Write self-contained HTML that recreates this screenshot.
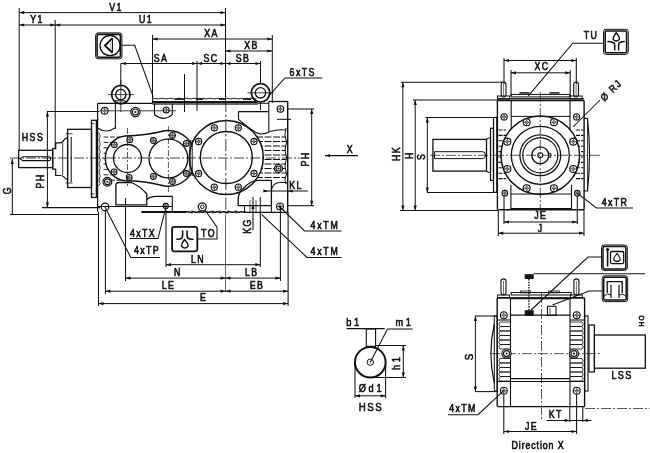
<!DOCTYPE html>
<html><head><meta charset="utf-8"><style>
html,body{margin:0;padding:0;background:#fff;}
svg{display:block;filter:blur(0.3px);}
text{font-family:"Liberation Sans",sans-serif;fill:#111;stroke:#111;stroke-width:0.6px;}
</style></head><body>
<svg width="650" height="453" viewBox="0 0 650 453">
<rect width="650" height="453" fill="#fff"/>
<line x1="19.2" y1="8" x2="19.2" y2="150.5" stroke="#111" stroke-width="1.0"/>
<line x1="55.2" y1="20" x2="55.2" y2="148.7" stroke="#111" stroke-width="1.0"/>
<line x1="225.5" y1="8" x2="225.5" y2="100" stroke="#111" stroke-width="1.05"/>
<line x1="225.5" y1="215" x2="225.5" y2="292" stroke="#444" stroke-width="0.8"/>
<line x1="152.5" y1="35" x2="152.5" y2="98" stroke="#111" stroke-width="1.0"/>
<line x1="197" y1="61" x2="197" y2="111" stroke="#111" stroke-width="1.0"/>
<line x1="184.5" y1="74" x2="184.5" y2="112" stroke="#111" stroke-width="1.0"/>
<line x1="260.5" y1="61" x2="260.5" y2="110" stroke="#111" stroke-width="1.0"/>
<line x1="272.3" y1="35" x2="272.3" y2="103" stroke="#111" stroke-width="1.0"/>
<line x1="120.8" y1="63.5" x2="120.8" y2="84" stroke="#111" stroke-width="1.0"/>
<line x1="19.2" y1="12.6" x2="225.5" y2="12.6" stroke="#111" stroke-width="1.0"/>
<polygon points="19.2,12.6 24.2,11.0 24.2,14.2" fill="#111"/>
<polygon points="225.5,12.6 220.5,11.0 220.5,14.2" fill="#111"/>
<text x="0" y="0" font-size="10" text-anchor="middle" dominant-baseline="central" font-weight="normal" letter-spacing="1.62" transform="translate(116 7) scale(0.88 1)">V1</text>
<line x1="19.2" y1="25" x2="55.2" y2="25" stroke="#111" stroke-width="1.0"/>
<polygon points="19.2,25.0 24.2,23.4 24.2,26.6" fill="#111"/>
<polygon points="55.2,25.0 50.2,23.4 50.2,26.6" fill="#111"/>
<line x1="55.2" y1="25" x2="225.5" y2="25" stroke="#111" stroke-width="1.0"/>
<polygon points="55.2,25.0 60.2,23.4 60.2,26.6" fill="#111"/>
<polygon points="225.5,25.0 220.5,23.4 220.5,26.6" fill="#111"/>
<text x="0" y="0" font-size="10" text-anchor="middle" dominant-baseline="central" font-weight="normal" letter-spacing="1.62" transform="translate(37 19.5) scale(0.88 1)">Y1</text>
<text x="0" y="0" font-size="10" text-anchor="middle" dominant-baseline="central" font-weight="normal" letter-spacing="1.62" transform="translate(146 19.5) scale(0.88 1)">U1</text>
<line x1="152.5" y1="39" x2="272.3" y2="39" stroke="#111" stroke-width="1.0"/>
<polygon points="152.5,39.0 157.5,37.4 157.5,40.6" fill="#111"/>
<polygon points="272.3,39.0 267.3,37.4 267.3,40.6" fill="#111"/>
<text x="0" y="0" font-size="10" text-anchor="middle" dominant-baseline="central" font-weight="normal" letter-spacing="1.62" transform="translate(211.5 33) scale(0.88 1)">XA</text>
<line x1="225.5" y1="51" x2="272.3" y2="51" stroke="#111" stroke-width="1.0"/>
<polygon points="225.5,51.0 230.5,49.4 230.5,52.6" fill="#111"/>
<polygon points="272.3,51.0 267.3,49.4 267.3,52.6" fill="#111"/>
<text x="0" y="0" font-size="10" text-anchor="middle" dominant-baseline="central" font-weight="normal" letter-spacing="1.62" transform="translate(251.5 45) scale(0.88 1)">XB</text>
<line x1="120.8" y1="63.5" x2="197" y2="63.5" stroke="#111" stroke-width="1.0"/>
<polygon points="120.8,63.5 125.8,61.9 125.8,65.1" fill="#111"/>
<polygon points="197.0,63.5 192.0,61.9 192.0,65.1" fill="#111"/>
<line x1="197" y1="63.5" x2="225.5" y2="63.5" stroke="#111" stroke-width="1.0"/>
<polygon points="197.0,63.5 202.0,61.9 202.0,65.1" fill="#111"/>
<polygon points="225.5,63.5 220.5,61.9 220.5,65.1" fill="#111"/>
<line x1="225.5" y1="63.5" x2="260.5" y2="63.5" stroke="#111" stroke-width="1.0"/>
<polygon points="225.5,63.5 230.5,61.9 230.5,65.1" fill="#111"/>
<polygon points="260.5,63.5 255.5,61.9 255.5,65.1" fill="#111"/>
<text x="0" y="0" font-size="10" text-anchor="middle" dominant-baseline="central" font-weight="normal" letter-spacing="1.62" transform="translate(161 58) scale(0.88 1)">SA</text>
<text x="0" y="0" font-size="10" text-anchor="middle" dominant-baseline="central" font-weight="normal" letter-spacing="1.62" transform="translate(211 58) scale(0.88 1)">SC</text>
<text x="0" y="0" font-size="10" text-anchor="middle" dominant-baseline="central" font-weight="normal" letter-spacing="1.62" transform="translate(243 58) scale(0.88 1)">SB</text>
<rect x="95.6" y="32.9" width="26.3" height="25.9" rx="2.5" stroke="#111" stroke-width="1.0" fill="none"/>
<rect x="97.1" y="34.4" width="23.3" height="22.9" rx="1.5" stroke="#111" stroke-width="1.6" fill="none"/>
<circle cx="110.1" cy="45.6" r="10.1" stroke="#111" stroke-width="1.3" fill="none"/>
<path d="M112.5,38.1 L105,45.6 L112.5,52.8" stroke="#111" stroke-width="2.0" fill="none"/>
<path d="M112.5,38.1 L112.5,52.8" stroke="#111" stroke-width="1.0" fill="none"/>
<path d="M111.5,41.5 Q109.5,45.6 111.5,49.5" stroke="#777" stroke-width="0.7" fill="none"/>
<path d="M121.9,45.3 L134.7,45.3 L153.2,96.6" stroke="#111" stroke-width="1.05" fill="none"/>
<text x="0" y="0" font-size="10" text-anchor="middle" dominant-baseline="central" font-weight="normal" letter-spacing="1.62" transform="translate(302.7 71.8) scale(0.88 1)">6xTS</text>
<path d="M322.4,78 L285,78 L269.2,95.4" stroke="#111" stroke-width="1.05" fill="none"/>
<circle cx="120.8" cy="94.6" r="9.2" stroke="#111" stroke-width="1.7" fill="#fff"/>
<circle cx="120.8" cy="94.6" r="5.2" stroke="#111" stroke-width="1.3" fill="none"/>
<line x1="107.8" y1="94.6" x2="133.8" y2="94.6" stroke="#111" stroke-width="0.8"/>
<circle cx="260.5" cy="92.8" r="9.2" stroke="#111" stroke-width="1.7" fill="#fff"/>
<circle cx="260.5" cy="92.8" r="5.2" stroke="#111" stroke-width="1.3" fill="none"/>
<line x1="247.5" y1="92.8" x2="273.5" y2="92.8" stroke="#111" stroke-width="0.8"/>
<line x1="115.4" y1="100.8" x2="115.4" y2="129" stroke="#111" stroke-width="1.1"/>
<line x1="125.4" y1="100.8" x2="125.4" y2="103.3" stroke="#111" stroke-width="1.0"/>
<line x1="115.4" y1="100.8" x2="125.4" y2="100.8" stroke="#111" stroke-width="1.0"/>
<line x1="120.8" y1="80" x2="120.8" y2="112" stroke="#111" stroke-width="0.8"/>
<path d="M152.5,98.8 Q154.5,98.0 156.5,98.6 Q158.5,99.2 160.5,98.6 Q162.5,98.0 164.5,98.6 Q166.5,99.2 168.5,98.6 Q170.5,98.0 172.5,98.6 Q174.5,99.2 176.5,98.6 Q178.5,98.0 180.5,98.6 Q182.5,99.2 184.5,98.6 Q186.5,98.0 188.5,98.6 Q190.5,99.2 192.5,98.6 Q194.5,98.0 196.5,98.6 Q198.5,99.2 200.5,98.6 Q202.5,98.0 204.5,98.6 Q206.5,99.2 208.5,98.6 Q210.5,98.0 212.5,98.6 Q214.5,99.2 216.5,98.6 Q218.5,98.0 220.5,98.6 Q222.5,99.2 224.5,98.6 Q226.5,98.0 228.5,98.6 Q230.5,99.2 232.5,98.6 Q234.5,98.0 236.5,98.6 Q238.5,99.2 240.5,98.6 Q242.5,98.0 244.5,98.6 Q246.5,99.2 248.5,98.6 Q250.5,98.0 252.5,98.6 Q254.5,99.2 256.5,98.6" stroke="#111" stroke-width="1.0" fill="none"/>
<path d="M175,99.5 Q179.5,96.8 184,99.5 Z" stroke="#111" stroke-width="0.8" fill="#555"/>
<path d="M196,99.5 Q199.5,96.8 203,99.5 Z" stroke="#111" stroke-width="0.8" fill="#555"/>
<path d="M219,99.5 Q222.5,96.8 226,99.5 Z" stroke="#111" stroke-width="0.8" fill="#555"/>
<path d="M243,99.5 Q247.0,96.8 251,99.5 Z" stroke="#111" stroke-width="0.8" fill="#555"/>
<line x1="152.5" y1="98.5" x2="152.5" y2="103.5" stroke="#111" stroke-width="1.1"/>
<line x1="152.3" y1="101.6" x2="258" y2="101.6" stroke="#111" stroke-width="1.0"/>
<line x1="97.6" y1="103.3" x2="152.3" y2="103.3" stroke="#111" stroke-width="1.2"/>
<line x1="152.3" y1="102.6" x2="258" y2="102.6" stroke="#111" stroke-width="1.8"/>
<line x1="268.8" y1="101.5" x2="287.7" y2="101.5" stroke="#111" stroke-width="1.3"/>
<line x1="258" y1="103.3" x2="268.8" y2="103.3" stroke="#111" stroke-width="1.0"/>
<line x1="152.3" y1="104.2" x2="258" y2="104.2" stroke="#111" stroke-width="0.9"/>
<line x1="97.6" y1="103.5" x2="97.6" y2="211.8" stroke="#111" stroke-width="1.2"/>
<line x1="287.7" y1="101.5" x2="287.7" y2="212.3" stroke="#111" stroke-width="1.4"/>
<path d="M97.6,128 Q106,134 115.1,128" stroke="#111" stroke-width="1.1" fill="none"/>
<line x1="100" y1="110.8" x2="176" y2="110.8" stroke="#111" stroke-width="0.8"/>
<path d="M154.5,104 L154.5,114.7 Q163.8,122 172.3,114.7 L172.3,104" stroke="#111" stroke-width="1.1" fill="none"/>
<circle cx="166.2" cy="110" r="3.0" stroke="#111" stroke-width="1.1" fill="#fff"/>
<path d="M164.5,110.0 L166.2,108.3 L167.8,110.0 L166.2,111.7 Z" stroke="#111" stroke-width="0.6" fill="none"/>
<line x1="163.2" y1="110" x2="169.2" y2="110" stroke="#111" stroke-width="0.5"/>
<line x1="166.2" y1="107.0" x2="166.2" y2="113.0" stroke="#111" stroke-width="0.5"/>
<circle cx="104.6" cy="110.8" r="3.4" stroke="#111" stroke-width="1.1" fill="#fff"/>
<path d="M102.7,110.8 L104.6,108.9 L106.5,110.8 L104.6,112.7 Z" stroke="#111" stroke-width="0.6" fill="none"/>
<line x1="101.19999999999999" y1="110.8" x2="108.0" y2="110.8" stroke="#111" stroke-width="0.5"/>
<line x1="104.6" y1="107.39999999999999" x2="104.6" y2="114.2" stroke="#111" stroke-width="0.5"/>
<circle cx="135.4" cy="112" r="4.6" stroke="#111" stroke-width="1.2" fill="#fff"/>
<circle cx="135.4" cy="112" r="3.0" stroke="#111" stroke-width="1.1" fill="none"/>
<circle cx="135.4" cy="112" r="1.05" stroke="#111" stroke-width="0" fill="#111"/>
<circle cx="280.4" cy="109" r="3.3" stroke="#111" stroke-width="1.1" fill="#fff"/>
<path d="M278.6,109.0 L280.4,107.2 L282.2,109.0 L280.4,110.8 Z" stroke="#111" stroke-width="0.6" fill="none"/>
<line x1="277.09999999999997" y1="109" x2="283.7" y2="109" stroke="#111" stroke-width="0.5"/>
<line x1="280.4" y1="105.7" x2="280.4" y2="112.3" stroke="#111" stroke-width="0.5"/>
<line x1="277" y1="119.3" x2="291" y2="119.3" stroke="#111" stroke-width="1.05"/>
<line x1="268.8" y1="101.5" x2="268.8" y2="131.5" stroke="#111" stroke-width="1.1"/>
<path d="M238.5,111.6 L268.2,111.6 M238.5,111.6 L238.5,119.3 Q246,126 256.1,132.6 Q262,136 270,131.5 Q278,129 286,130" stroke="#111" stroke-width="1.1" fill="none"/>
<line x1="256" y1="137.0" x2="286" y2="137.0" stroke="#111" stroke-width="1.0" stroke-dasharray="7 1.5"/>
<line x1="256" y1="141.5" x2="286" y2="141.5" stroke="#111" stroke-width="1.0" stroke-dasharray="7 1.5"/>
<line x1="256" y1="146.0" x2="286" y2="146.0" stroke="#111" stroke-width="1.0" stroke-dasharray="7 1.5"/>
<line x1="256" y1="150.5" x2="286" y2="150.5" stroke="#111" stroke-width="1.0" stroke-dasharray="7 1.5"/>
<line x1="256" y1="155.0" x2="286" y2="155.0" stroke="#111" stroke-width="1.0" stroke-dasharray="7 1.5"/>
<line x1="256" y1="159.5" x2="286" y2="159.5" stroke="#111" stroke-width="1.0" stroke-dasharray="7 1.5"/>
<line x1="256" y1="164.0" x2="286" y2="164.0" stroke="#111" stroke-width="1.0" stroke-dasharray="7 1.5"/>
<line x1="256" y1="168.5" x2="286" y2="168.5" stroke="#111" stroke-width="1.0" stroke-dasharray="7 1.5"/>
<line x1="256" y1="173.0" x2="286" y2="173.0" stroke="#111" stroke-width="1.0" stroke-dasharray="7 1.5"/>
<line x1="256" y1="177.5" x2="286" y2="177.5" stroke="#111" stroke-width="1.0" stroke-dasharray="7 1.5"/>
<path d="M286,128 Q283.5,135 286.5,142 Q283.5,150 286.5,158 Q283.5,166 286.5,174 Q283.5,180 286,184" stroke="#111" stroke-width="1.0" fill="none"/>
<line x1="103.5" y1="137.0" x2="125" y2="137.0" stroke="#111" stroke-width="0.9" stroke-dasharray="5 1.5"/>
<line x1="103.5" y1="142.4" x2="125" y2="142.4" stroke="#111" stroke-width="0.9" stroke-dasharray="5 1.5"/>
<line x1="103.5" y1="147.8" x2="125" y2="147.8" stroke="#111" stroke-width="0.9" stroke-dasharray="5 1.5"/>
<line x1="103.5" y1="153.2" x2="125" y2="153.2" stroke="#111" stroke-width="0.9" stroke-dasharray="5 1.5"/>
<line x1="103.5" y1="158.6" x2="125" y2="158.6" stroke="#111" stroke-width="0.9" stroke-dasharray="5 1.5"/>
<line x1="103.5" y1="164.0" x2="125" y2="164.0" stroke="#111" stroke-width="0.9" stroke-dasharray="5 1.5"/>
<line x1="103.5" y1="169.4" x2="125" y2="169.4" stroke="#111" stroke-width="0.9" stroke-dasharray="5 1.5"/>
<line x1="103.5" y1="174.8" x2="125" y2="174.8" stroke="#111" stroke-width="0.9" stroke-dasharray="5 1.5"/>
<line x1="103.5" y1="180.2" x2="125" y2="180.2" stroke="#111" stroke-width="0.9" stroke-dasharray="5 1.5"/>
<path d="M124.9,136.0 Q144.8,135.9 164.6,130.8 A27.8,27.8 0 1 1 164.6,186.0 Q144.8,180.9 124.9,180.8 A22.6,22.6 0 0 1 124.9,136.0 Z" stroke="#111" stroke-width="1.4" fill="#fff"/>
<circle cx="127.5" cy="158.5" r="14" stroke="#111" stroke-width="1.3" fill="none"/>
<circle cx="168.4" cy="158.5" r="19.4" stroke="#111" stroke-width="1.3" fill="none"/>
<circle cx="226.3" cy="157.5" r="37" stroke="#111" stroke-width="1.5" fill="#fff"/>
<circle cx="226.3" cy="157.5" r="26" stroke="#111" stroke-width="1.4" fill="none"/>
<line x1="190" y1="140" x2="190" y2="176" stroke="#111" stroke-width="1.0"/>
<line x1="192.2" y1="140" x2="192.2" y2="176" stroke="#111" stroke-width="1.0"/>
<circle cx="129.1559591122055" cy="177.42769926374316" r="2.9" stroke="#111" stroke-width="1.1" fill="#fff"/>
<path d="M127.6,177.4 L129.2,175.8 L130.8,177.4 L129.2,179.0 Z" stroke="#111" stroke-width="0.6" fill="none"/>
<line x1="126.25595911220549" y1="177.42769926374316" x2="132.0559591122055" y2="177.42769926374316" stroke="#111" stroke-width="0.5"/>
<line x1="129.1559591122055" y1="174.52769926374316" x2="129.1559591122055" y2="180.32769926374317" stroke="#111" stroke-width="0.5"/>
<circle cx="114.0649711574556" cy="171.9350288425444" r="2.9" stroke="#111" stroke-width="1.1" fill="#fff"/>
<path d="M112.5,171.9 L114.1,170.3 L115.7,171.9 L114.1,173.5 Z" stroke="#111" stroke-width="0.6" fill="none"/>
<line x1="111.1649711574556" y1="171.9350288425444" x2="116.96497115745561" y2="171.9350288425444" stroke="#111" stroke-width="0.5"/>
<line x1="114.0649711574556" y1="169.0350288425444" x2="114.0649711574556" y2="174.8350288425444" stroke="#111" stroke-width="0.5"/>
<circle cx="114.30149096127906" cy="144.83254379356563" r="2.9" stroke="#111" stroke-width="1.1" fill="#fff"/>
<path d="M112.7,144.8 L114.3,143.2 L115.9,144.8 L114.3,146.4 Z" stroke="#111" stroke-width="0.6" fill="none"/>
<line x1="111.40149096127905" y1="144.83254379356563" x2="117.20149096127906" y2="144.83254379356563" stroke="#111" stroke-width="0.5"/>
<line x1="114.30149096127906" y1="141.93254379356563" x2="114.30149096127906" y2="147.73254379356564" stroke="#111" stroke-width="0.5"/>
<circle cx="129.8155175246978" cy="139.6416231188149" r="2.9" stroke="#111" stroke-width="1.1" fill="#fff"/>
<path d="M128.2,139.6 L129.8,138.0 L131.4,139.6 L129.8,141.2 Z" stroke="#111" stroke-width="0.6" fill="none"/>
<line x1="126.9155175246978" y1="139.6416231188149" x2="132.71551752469782" y2="139.6416231188149" stroke="#111" stroke-width="0.5"/>
<line x1="129.8155175246978" y1="136.74162311881489" x2="129.8155175246978" y2="142.5416231188149" stroke="#111" stroke-width="0.5"/>
<circle cx="186.32543996898409" cy="173.541230066665" r="2.9" stroke="#111" stroke-width="1.1" fill="#fff"/>
<path d="M184.7,173.5 L186.3,171.9 L187.9,173.5 L186.3,175.1 Z" stroke="#111" stroke-width="0.6" fill="none"/>
<line x1="183.42543996898408" y1="173.541230066665" x2="189.2254399689841" y2="173.541230066665" stroke="#111" stroke-width="0.5"/>
<line x1="186.32543996898409" y1="170.641230066665" x2="186.32543996898409" y2="176.441230066665" stroke="#111" stroke-width="0.5"/>
<circle cx="172.46336735740618" cy="181.54450142048566" r="2.9" stroke="#111" stroke-width="1.1" fill="#fff"/>
<path d="M170.9,181.5 L172.5,179.9 L174.1,181.5 L172.5,183.1 Z" stroke="#111" stroke-width="0.6" fill="none"/>
<line x1="169.56336735740618" y1="181.54450142048566" x2="175.3633673574062" y2="181.54450142048566" stroke="#111" stroke-width="0.5"/>
<line x1="172.46336735740618" y1="178.64450142048565" x2="172.46336735740618" y2="184.44450142048566" stroke="#111" stroke-width="0.5"/>
<circle cx="153.358769933335" cy="176.42543996898408" r="2.9" stroke="#111" stroke-width="1.1" fill="#fff"/>
<path d="M151.8,176.4 L153.4,174.8 L155.0,176.4 L153.4,178.0 Z" stroke="#111" stroke-width="0.6" fill="none"/>
<line x1="150.458769933335" y1="176.42543996898408" x2="156.258769933335" y2="176.42543996898408" stroke="#111" stroke-width="0.5"/>
<line x1="153.358769933335" y1="173.52543996898407" x2="153.358769933335" y2="179.32543996898409" stroke="#111" stroke-width="0.5"/>
<circle cx="153.358769933335" cy="140.57456003101592" r="2.9" stroke="#111" stroke-width="1.1" fill="#fff"/>
<path d="M151.8,140.6 L153.4,139.0 L155.0,140.6 L153.4,142.2 Z" stroke="#111" stroke-width="0.6" fill="none"/>
<line x1="150.458769933335" y1="140.57456003101592" x2="156.258769933335" y2="140.57456003101592" stroke="#111" stroke-width="0.5"/>
<line x1="153.358769933335" y1="137.67456003101591" x2="153.358769933335" y2="143.47456003101593" stroke="#111" stroke-width="0.5"/>
<circle cx="172.46336735740616" cy="135.45549857951434" r="2.9" stroke="#111" stroke-width="1.1" fill="#fff"/>
<path d="M170.9,135.5 L172.5,133.9 L174.1,135.5 L172.5,137.1 Z" stroke="#111" stroke-width="0.6" fill="none"/>
<line x1="169.56336735740615" y1="135.45549857951434" x2="175.36336735740616" y2="135.45549857951434" stroke="#111" stroke-width="0.5"/>
<line x1="172.46336735740616" y1="132.55549857951434" x2="172.46336735740616" y2="138.35549857951435" stroke="#111" stroke-width="0.5"/>
<circle cx="186.32543996898409" cy="143.45876993333496" r="2.9" stroke="#111" stroke-width="1.1" fill="#fff"/>
<path d="M184.7,143.5 L186.3,141.9 L187.9,143.5 L186.3,145.1 Z" stroke="#111" stroke-width="0.6" fill="none"/>
<line x1="183.42543996898408" y1="143.45876993333496" x2="189.2254399689841" y2="143.45876993333496" stroke="#111" stroke-width="0.5"/>
<line x1="186.32543996898409" y1="140.55876993333496" x2="186.32543996898409" y2="146.35876993333497" stroke="#111" stroke-width="0.5"/>
<circle cx="254.01281292110204" cy="173.5" r="3.1" stroke="#111" stroke-width="1.1" fill="#fff"/>
<path d="M252.3,173.5 L254.0,171.8 L255.7,173.5 L254.0,175.2 Z" stroke="#111" stroke-width="0.6" fill="none"/>
<line x1="250.91281292110205" y1="173.5" x2="257.11281292110203" y2="173.5" stroke="#111" stroke-width="0.5"/>
<line x1="254.01281292110204" y1="170.4" x2="254.01281292110204" y2="176.6" stroke="#111" stroke-width="0.5"/>
<circle cx="238.2874109893092" cy="187.1698833461372" r="3.1" stroke="#111" stroke-width="1.1" fill="#fff"/>
<path d="M236.6,187.2 L238.3,185.5 L240.0,187.2 L238.3,188.9 Z" stroke="#111" stroke-width="0.6" fill="none"/>
<line x1="235.1874109893092" y1="187.1698833461372" x2="241.3874109893092" y2="187.1698833461372" stroke="#111" stroke-width="0.5"/>
<line x1="238.2874109893092" y1="184.0698833461372" x2="238.2874109893092" y2="190.2698833461372" stroke="#111" stroke-width="0.5"/>
<circle cx="214.31258901069083" cy="187.1698833461372" r="3.1" stroke="#111" stroke-width="1.1" fill="#fff"/>
<path d="M212.6,187.2 L214.3,185.5 L216.0,187.2 L214.3,188.9 Z" stroke="#111" stroke-width="0.6" fill="none"/>
<line x1="211.21258901069083" y1="187.1698833461372" x2="217.41258901069082" y2="187.1698833461372" stroke="#111" stroke-width="0.5"/>
<line x1="214.31258901069083" y1="184.0698833461372" x2="214.31258901069083" y2="190.2698833461372" stroke="#111" stroke-width="0.5"/>
<circle cx="198.58718707889798" cy="173.5" r="3.1" stroke="#111" stroke-width="1.1" fill="#fff"/>
<path d="M196.9,173.5 L198.6,171.8 L200.3,173.5 L198.6,175.2 Z" stroke="#111" stroke-width="0.6" fill="none"/>
<line x1="195.487187078898" y1="173.5" x2="201.68718707889798" y2="173.5" stroke="#111" stroke-width="0.5"/>
<line x1="198.58718707889798" y1="170.4" x2="198.58718707889798" y2="176.6" stroke="#111" stroke-width="0.5"/>
<circle cx="198.58718707889798" cy="141.5" r="3.1" stroke="#111" stroke-width="1.1" fill="#fff"/>
<path d="M196.9,141.5 L198.6,139.8 L200.3,141.5 L198.6,143.2 Z" stroke="#111" stroke-width="0.6" fill="none"/>
<line x1="195.487187078898" y1="141.5" x2="201.68718707889798" y2="141.5" stroke="#111" stroke-width="0.5"/>
<line x1="198.58718707889798" y1="138.4" x2="198.58718707889798" y2="144.6" stroke="#111" stroke-width="0.5"/>
<circle cx="214.31258901069083" cy="127.8301166538628" r="3.1" stroke="#111" stroke-width="1.1" fill="#fff"/>
<path d="M212.6,127.8 L214.3,126.1 L216.0,127.8 L214.3,129.5 Z" stroke="#111" stroke-width="0.6" fill="none"/>
<line x1="211.21258901069083" y1="127.8301166538628" x2="217.41258901069082" y2="127.8301166538628" stroke="#111" stroke-width="0.5"/>
<line x1="214.31258901069083" y1="124.73011665386281" x2="214.31258901069083" y2="130.9301166538628" stroke="#111" stroke-width="0.5"/>
<circle cx="238.2874109893092" cy="127.8301166538628" r="3.1" stroke="#111" stroke-width="1.1" fill="#fff"/>
<path d="M236.6,127.8 L238.3,126.1 L240.0,127.8 L238.3,129.5 Z" stroke="#111" stroke-width="0.6" fill="none"/>
<line x1="235.1874109893092" y1="127.8301166538628" x2="241.3874109893092" y2="127.8301166538628" stroke="#111" stroke-width="0.5"/>
<line x1="238.2874109893092" y1="124.73011665386281" x2="238.2874109893092" y2="130.9301166538628" stroke="#111" stroke-width="0.5"/>
<circle cx="254.01281292110204" cy="141.5" r="3.1" stroke="#111" stroke-width="1.1" fill="#fff"/>
<path d="M252.3,141.5 L254.0,139.8 L255.7,141.5 L254.0,143.2 Z" stroke="#111" stroke-width="0.6" fill="none"/>
<line x1="250.91281292110205" y1="141.5" x2="257.11281292110203" y2="141.5" stroke="#111" stroke-width="0.5"/>
<line x1="254.01281292110204" y1="138.4" x2="254.01281292110204" y2="144.6" stroke="#111" stroke-width="0.5"/>
<line x1="10" y1="158" x2="300" y2="158" stroke="#111" stroke-width="0.8" stroke-dasharray="10 2 2 2"/>
<line x1="225.8" y1="100" x2="225.8" y2="215" stroke="#111" stroke-width="0.8" stroke-dasharray="12 2.5 2.5 2.5"/>
<line x1="127.5" y1="128" x2="127.5" y2="188" stroke="#111" stroke-width="0.7" stroke-dasharray="6 2 2 2"/>
<line x1="168.4" y1="126" x2="168.4" y2="192" stroke="#111" stroke-width="0.7" stroke-dasharray="6 2 2 2"/>
<path d="M98.5,132 Q101.5,136 99,140 Q101.5,144 99,148 Q101.5,152 99,156 Q101.5,160 99,164 Q101.5,168 99,172 Q101.5,176 99,180 Q101.5,184 98.5,186" stroke="#111" stroke-width="0.8" fill="none"/>
<circle cx="278.5" cy="168.5" r="4.1" stroke="#111" stroke-width="1.2" fill="#fff"/>
<circle cx="278.5" cy="168.5" r="2.5" stroke="#111" stroke-width="1.1" fill="none"/>
<circle cx="278.5" cy="168.5" r="1.05" stroke="#111" stroke-width="0" fill="#111"/>
<circle cx="107.4" cy="181.7" r="4.4" stroke="#111" stroke-width="1.2" fill="#fff"/>
<circle cx="107.4" cy="181.7" r="2.8" stroke="#111" stroke-width="1.1" fill="none"/>
<circle cx="107.4" cy="181.7" r="1.05" stroke="#111" stroke-width="0" fill="#111"/>
<path d="M115.9,186 Q115.9,182.5 119,182.5 L131.3,182.5 Q140,186 146.8,194 L146.8,204.9 L115.9,204.9 Z" stroke="#111" stroke-width="1.3" fill="none"/>
<path d="M146.8,199.5 Q150,196.4 156.8,196.4 L172.3,196.4 L172.3,211" stroke="#111" stroke-width="1.1" fill="none"/>
<circle cx="165.8" cy="206" r="2.6" stroke="#111" stroke-width="1.1" fill="#fff"/>
<path d="M164.4,206.0 L165.8,204.6 L167.2,206.0 L165.8,207.4 Z" stroke="#111" stroke-width="0.6" fill="none"/>
<line x1="163.20000000000002" y1="206" x2="168.4" y2="206" stroke="#111" stroke-width="0.5"/>
<line x1="165.8" y1="203.4" x2="165.8" y2="208.6" stroke="#111" stroke-width="0.5"/>
<circle cx="105" cy="206.9" r="3.8" stroke="#111" stroke-width="1.2" fill="none"/>
<line x1="97.6" y1="206.4" x2="172" y2="206.4" stroke="#111" stroke-width="1.05"/>
<line x1="141.4" y1="212" x2="186" y2="212" stroke="#111" stroke-width="2.0"/>
<path d="M186,212 Q187.5,211.3 189.0,212 Q190.5,212.7 192.0,212 Q193.5,211.3 195.0,212 Q196.5,212.7 198.0,212 Q199.5,211.3 201.0,212 Q202.5,212.7 204.0,212 Q205.5,211.3 207.0,212 Q208.5,212.7 210.0,212 Q211.5,211.3 213.0,212 Q214.5,212.7 216.0,212 Q217.5,211.3 219.0,212 Q220.5,212.7 222.0,212 Q223.5,211.3 225.0,212 Q226.5,212.7 228.0,212 Q229.5,211.3 231.0,212 Q232.5,212.7 234.0,212 Q235.5,211.3 237.0,212 Q238.5,212.7 240.0,212 Q241.5,211.3 243.0,212 Q244.5,212.7 246.0,212" stroke="#111" stroke-width="1.5" fill="none"/>
<line x1="192" y1="210" x2="192" y2="214" stroke="#111" stroke-width="0.6"/>
<line x1="199" y1="210" x2="199" y2="214" stroke="#111" stroke-width="0.6"/>
<line x1="213" y1="210" x2="213" y2="214" stroke="#111" stroke-width="0.6"/>
<line x1="220" y1="210" x2="220" y2="214" stroke="#111" stroke-width="0.6"/>
<line x1="228" y1="210" x2="228" y2="214" stroke="#111" stroke-width="0.6"/>
<line x1="236" y1="210" x2="236" y2="214" stroke="#111" stroke-width="0.6"/>
<path d="M238.2,205.7 L238.2,199.6 Q238.2,192 244,188 Q250,181 258,180.3 L271.4,180.3 L271.4,205.7 Z" stroke="#111" stroke-width="1.3" fill="none"/>
<path d="M271.4,190 Q273,182.5 280,182.5 L287.7,182.5" stroke="#111" stroke-width="1.1" fill="none"/>
<line x1="244.5" y1="205.7" x2="244.5" y2="212.3" stroke="#111" stroke-width="1.0"/>
<line x1="271.4" y1="205.7" x2="271.4" y2="212.3" stroke="#111" stroke-width="1.05"/>
<line x1="244.5" y1="212.3" x2="287.7" y2="212.3" stroke="#111" stroke-width="1.2"/>
<line x1="250" y1="200" x2="250" y2="212" stroke="#111" stroke-width="0.7"/>
<line x1="256" y1="200" x2="256" y2="212" stroke="#111" stroke-width="0.7"/>
<circle cx="280" cy="206.4" r="3.4" stroke="#111" stroke-width="1.1" fill="#fff"/>
<path d="M278.1,206.4 L280.0,204.5 L281.9,206.4 L280.0,208.3 Z" stroke="#111" stroke-width="0.6" fill="none"/>
<line x1="276.6" y1="206.4" x2="283.4" y2="206.4" stroke="#111" stroke-width="0.5"/>
<line x1="280" y1="203.0" x2="280" y2="209.8" stroke="#111" stroke-width="0.5"/>
<circle cx="202.3" cy="206.8" r="4.0" stroke="#111" stroke-width="1.3" fill="#fff"/>
<circle cx="202.3" cy="206.8" r="1.8" stroke="#111" stroke-width="1.0" fill="none"/>
<path d="M205,210 L217,227.1 L217,239 L197.5,239" stroke="#111" stroke-width="1.05" fill="none"/>
<rect x="67.6" y="129.3" width="23.9" height="58.2" rx="0" stroke="#111" stroke-width="1.3" fill="none"/>
<line x1="71.2" y1="137" x2="71.2" y2="182" stroke="#111" stroke-width="1.05"/>
<line x1="65.6" y1="133.8" x2="72.6" y2="133.8" stroke="#111" stroke-width="0.8"/>
<line x1="65.6" y1="183" x2="72.6" y2="183" stroke="#111" stroke-width="0.8"/>
<rect x="91.5" y="120.3" width="4.9" height="77.1" rx="0" stroke="#111" stroke-width="1.3" fill="none"/>
<line x1="90.5" y1="123.6" x2="94.4" y2="123.6" stroke="#111" stroke-width="0.8"/>
<line x1="90.5" y1="194" x2="94.4" y2="194" stroke="#111" stroke-width="0.8"/>
<path d="M52.7,148.7 L55.7,148.7 L55.7,142.8 L60,142.8 Q62.7,142.8 64,140 Q65.5,137.8 67.6,137.8 L67.6,179.3 Q65.5,179.3 64,177 Q62.7,175.5 60,175.5 L55.7,175.5 L55.7,169.2 L52.7,169.2 Z" stroke="#111" stroke-width="1.2" fill="none"/>
<line x1="62.7" y1="143" x2="62.7" y2="175" stroke="#111" stroke-width="0.8"/>
<rect x="18.6" y="150.3" width="34.1" height="17.3" rx="0" stroke="#111" stroke-width="1.3" fill="none"/>
<path d="M20,158.65 L23,156.7 L49,156.7 Q50.7,156.7 50.7,158.65 Q50.7,160.6 49,160.6 L23,160.6 Z" stroke="#111" stroke-width="1.05" fill="none"/>
<text x="0" y="0" font-size="10" text-anchor="middle" dominant-baseline="central" font-weight="normal" letter-spacing="1.62" transform="translate(33 137) scale(0.88 1)">HSS</text>
<line x1="47" y1="111.4" x2="99.5" y2="111.4" stroke="#111" stroke-width="1.05"/>
<line x1="47.4" y1="111.4" x2="47.4" y2="207.6" stroke="#111" stroke-width="1.0"/>
<polygon points="47.4,111.4 45.8,116.4 49.0,116.4" fill="#111"/>
<polygon points="47.4,207.6 45.8,202.6 49.0,202.6" fill="#111"/>
<text x="0" y="0" font-size="10" text-anchor="middle" dominant-baseline="central" font-weight="normal" letter-spacing="1.62" transform="translate(40 181) rotate(-90) scale(0.88 1)">PH</text>
<line x1="42" y1="207.6" x2="100" y2="207.6" stroke="#111" stroke-width="1.05"/>
<line x1="10" y1="214.5" x2="98" y2="214.5" stroke="#111" stroke-width="1.05"/>
<line x1="12.3" y1="159" x2="12.3" y2="214.5" stroke="#111" stroke-width="1.05"/>
<polygon points="12.3,159.0 10.7,164.0 13.9,164.0" fill="#111"/>
<text x="0" y="0" font-size="10" text-anchor="middle" dominant-baseline="central" font-weight="normal" letter-spacing="1.62" transform="translate(7 190) rotate(-90) scale(0.88 1)">G</text>
<line x1="288" y1="109" x2="314" y2="109" stroke="#111" stroke-width="1.05"/>
<line x1="311.7" y1="109" x2="311.7" y2="205.7" stroke="#111" stroke-width="1.0"/>
<polygon points="311.7,109.0 310.1,114.0 313.3,114.0" fill="#111"/>
<polygon points="311.7,205.7 310.1,200.7 313.3,200.7" fill="#111"/>
<line x1="288" y1="205.7" x2="314" y2="205.7" stroke="#111" stroke-width="1.05"/>
<text x="0" y="0" font-size="10" text-anchor="middle" dominant-baseline="central" font-weight="normal" letter-spacing="1.62" transform="translate(305.5 159) rotate(-90) scale(0.88 1)">PH</text>
<line x1="325" y1="155.6" x2="358" y2="155.6" stroke="#111" stroke-width="1.05"/>
<polygon points="325.0,155.6 330.0,154.0 330.0,157.2" fill="#111"/>
<text x="0" y="0" font-size="10" text-anchor="middle" dominant-baseline="central" font-weight="normal" letter-spacing="1.62" transform="translate(350.3 149.6) scale(0.88 1)">X</text>
<text x="0" y="0" font-size="10" text-anchor="middle" dominant-baseline="central" font-weight="normal" letter-spacing="1.62" transform="translate(296 185) scale(0.88 1)">KL</text>
<line x1="264" y1="191" x2="308" y2="191" stroke="#111" stroke-width="1.05"/>
<polygon points="268.4,191.0 263.4,189.4 263.4,192.6" fill="#111"/>
<polygon points="287.7,191.0 292.7,189.4 292.7,192.6" fill="#111"/>
<text x="0" y="0" font-size="10" text-anchor="middle" dominant-baseline="central" font-weight="normal" letter-spacing="1.62" transform="translate(247 226) rotate(-90) scale(0.88 1)">KG</text>
<line x1="253" y1="197" x2="253" y2="230" stroke="#111" stroke-width="1.05"/>
<polygon points="253.0,204.0 251.4,209.0 254.6,209.0" fill="#111"/>
<path d="M279,206 L304.6,231 L341.5,231" stroke="#111" stroke-width="1.05" fill="none"/>
<text x="0" y="0" font-size="10" text-anchor="middle" dominant-baseline="central" font-weight="normal" letter-spacing="2.02" transform="translate(325 225.4) scale(0.88 1)">4xTM</text>
<path d="M261.5,214.3 L307,257.4 L341.5,257.4" stroke="#111" stroke-width="1.05" fill="none"/>
<text x="0" y="0" font-size="10" text-anchor="middle" dominant-baseline="central" font-weight="normal" letter-spacing="2.02" transform="translate(325 251.7) scale(0.88 1)">4xTM</text>
<path d="M166,207 L158,238.4 L129.5,238.4" stroke="#111" stroke-width="1.05" fill="none"/>
<text x="0" y="0" font-size="10" text-anchor="middle" dominant-baseline="central" font-weight="normal" letter-spacing="1.62" transform="translate(143 232.8) scale(0.88 1)">4xTX</text>
<path d="M105,207 L130.8,257.4 L160,257.4" stroke="#111" stroke-width="1.05" fill="none"/>
<text x="0" y="0" font-size="10" text-anchor="middle" dominant-baseline="central" font-weight="normal" letter-spacing="1.62" transform="translate(147 250.7) scale(0.88 1)">4xTP</text>
<rect x="172.1" y="226.9" width="25.2" height="24.4" rx="2.2" stroke="#111" stroke-width="1.8" fill="none"/>
<path d="M182.6,230.6 L182.6,235.5 Q182.6,239.3 178,239.3 L176.3,239.3 M187.1,230.6 L187.1,235.5 Q187.1,239.3 191.7,239.3 L193.5,239.3" stroke="#111" stroke-width="1.6" fill="none"/>
<path d="M184.5,239.5 Q181,244.5 181.6,246.2 Q184.8,249.6 187.9,246.5 Q188.8,244 184.5,239.5 Z" stroke="#111" stroke-width="1.4" fill="none"/>
<text x="0" y="0" font-size="10" text-anchor="middle" dominant-baseline="central" font-weight="normal" letter-spacing="1.62" transform="translate(208.5 233) scale(0.88 1)">TO</text>
<line x1="98.5" y1="212" x2="98.5" y2="306" stroke="#111" stroke-width="1.05"/>
<line x1="105.4" y1="210" x2="105.4" y2="294" stroke="#111" stroke-width="1.05"/>
<line x1="125.5" y1="198" x2="125.5" y2="281" stroke="#111" stroke-width="1.05"/>
<line x1="166" y1="210" x2="166" y2="267" stroke="#111" stroke-width="1.05"/>
<line x1="260.3" y1="197" x2="260.3" y2="267" stroke="#111" stroke-width="1.05"/>
<line x1="280.4" y1="206" x2="280.4" y2="281" stroke="#111" stroke-width="1.05"/>
<line x1="288.1" y1="212" x2="288.1" y2="306" stroke="#111" stroke-width="1.05"/>
<line x1="166" y1="264.7" x2="260.3" y2="264.7" stroke="#111" stroke-width="1.0"/>
<polygon points="166.0,264.7 171.0,263.1 171.0,266.3" fill="#111"/>
<polygon points="260.3,264.7 255.3,263.1 255.3,266.3" fill="#111"/>
<text x="0" y="0" font-size="10" text-anchor="middle" dominant-baseline="central" font-weight="normal" letter-spacing="1.62" transform="translate(198 259) scale(0.88 1)">LN</text>
<line x1="125.5" y1="278.1" x2="225.5" y2="278.1" stroke="#111" stroke-width="1.0"/>
<polygon points="125.5,278.1 130.5,276.5 130.5,279.7" fill="#111"/>
<polygon points="225.5,278.1 220.5,276.5 220.5,279.7" fill="#111"/>
<line x1="225.5" y1="278.1" x2="280.4" y2="278.1" stroke="#111" stroke-width="1.0"/>
<polygon points="225.5,278.1 230.5,276.5 230.5,279.7" fill="#111"/>
<polygon points="280.4,278.1 275.4,276.5 275.4,279.7" fill="#111"/>
<text x="0" y="0" font-size="10" text-anchor="middle" dominant-baseline="central" font-weight="normal" letter-spacing="1.62" transform="translate(178 271.8) scale(0.88 1)">N</text>
<text x="0" y="0" font-size="10" text-anchor="middle" dominant-baseline="central" font-weight="normal" letter-spacing="1.62" transform="translate(251.7 271.8) scale(0.88 1)">LB</text>
<line x1="105.4" y1="291.2" x2="225.5" y2="291.2" stroke="#111" stroke-width="1.0"/>
<polygon points="105.4,291.2 110.4,289.6 110.4,292.8" fill="#111"/>
<polygon points="225.5,291.2 220.5,289.6 220.5,292.8" fill="#111"/>
<line x1="225.5" y1="291.2" x2="288.1" y2="291.2" stroke="#111" stroke-width="1.0"/>
<polygon points="225.5,291.2 230.5,289.6 230.5,292.8" fill="#111"/>
<polygon points="288.1,291.2 283.1,289.6 283.1,292.8" fill="#111"/>
<text x="0" y="0" font-size="10" text-anchor="middle" dominant-baseline="central" font-weight="normal" letter-spacing="1.62" transform="translate(168.6 285) scale(0.88 1)">LE</text>
<text x="0" y="0" font-size="10" text-anchor="middle" dominant-baseline="central" font-weight="normal" letter-spacing="1.62" transform="translate(257 285) scale(0.88 1)">EB</text>
<line x1="98.5" y1="303.6" x2="288.1" y2="303.6" stroke="#111" stroke-width="1.0"/>
<polygon points="98.5,303.6 103.5,302.0 103.5,305.2" fill="#111"/>
<polygon points="288.1,303.6 283.1,302.0 283.1,305.2" fill="#111"/>
<text x="0" y="0" font-size="10" text-anchor="middle" dominant-baseline="central" font-weight="normal" letter-spacing="1.62" transform="translate(203.7 297.7) scale(0.88 1)">E</text>
<line x1="401" y1="82.3" x2="503" y2="82.3" stroke="#111" stroke-width="1.05"/>
<line x1="413" y1="100" x2="498" y2="100" stroke="#111" stroke-width="1.05"/>
<line x1="425.5" y1="117.5" x2="493.5" y2="117.5" stroke="#111" stroke-width="1.05"/>
<line x1="400" y1="210.4" x2="498" y2="210.4" stroke="#111" stroke-width="1.05"/>
<line x1="427" y1="192.5" x2="493.5" y2="192.5" stroke="#111" stroke-width="1.05"/>
<line x1="402.9" y1="82.3" x2="402.9" y2="210.4" stroke="#111" stroke-width="1.0"/>
<polygon points="402.9,82.3 401.3,87.3 404.5,87.3" fill="#111"/>
<polygon points="402.9,210.4 401.3,205.4 404.5,205.4" fill="#111"/>
<line x1="415.2" y1="100" x2="415.2" y2="210.4" stroke="#111" stroke-width="1.0"/>
<polygon points="415.2,100.0 413.6,105.0 416.8,105.0" fill="#111"/>
<polygon points="415.2,210.4 413.6,205.4 416.8,205.4" fill="#111"/>
<line x1="427.3" y1="117.5" x2="427.3" y2="192.5" stroke="#111" stroke-width="1.0"/>
<polygon points="427.3,117.5 425.7,122.5 428.9,122.5" fill="#111"/>
<polygon points="427.3,192.5 425.7,187.5 428.9,187.5" fill="#111"/>
<text x="0" y="0" font-size="10" text-anchor="middle" dominant-baseline="central" font-weight="normal" letter-spacing="1.62" transform="translate(396 153.5) rotate(-90) scale(0.88 1)">HK</text>
<text x="0" y="0" font-size="10" text-anchor="middle" dominant-baseline="central" font-weight="normal" letter-spacing="1.62" transform="translate(409 155) rotate(-90) scale(0.88 1)">H</text>
<text x="0" y="0" font-size="10" text-anchor="middle" dominant-baseline="central" font-weight="normal" letter-spacing="1.62" transform="translate(421 156.3) rotate(-90) scale(0.88 1)">S</text>
<line x1="504" y1="58" x2="504" y2="84" stroke="#111" stroke-width="1.05"/>
<line x1="576.3" y1="58" x2="576.3" y2="84" stroke="#111" stroke-width="1.05"/>
<line x1="511" y1="70" x2="511" y2="96" stroke="#111" stroke-width="1.05"/>
<line x1="570.2" y1="70" x2="570.2" y2="96" stroke="#111" stroke-width="1.05"/>
<line x1="504" y1="60.5" x2="576.3" y2="60.5" stroke="#111" stroke-width="1.0"/>
<polygon points="504.0,60.5 509.0,58.9 509.0,62.1" fill="#111"/>
<polygon points="576.3,60.5 571.3,58.9 571.3,62.1" fill="#111"/>
<line x1="511" y1="72.8" x2="570.2" y2="72.8" stroke="#111" stroke-width="1.0"/>
<polygon points="511.0,72.8 516.0,71.2 516.0,74.4" fill="#111"/>
<polygon points="570.2,72.8 565.2,71.2 565.2,74.4" fill="#111"/>
<text x="0" y="0" font-size="10" text-anchor="middle" dominant-baseline="central" font-weight="normal" letter-spacing="1.62" transform="translate(542 66.5) scale(0.88 1)">XC</text>
<rect x="603.5" y="29.3" width="24.8" height="25.1" rx="2.5" stroke="#111" stroke-width="1.0" fill="none"/>
<rect x="605.2" y="31" width="21.4" height="21.7" rx="1.5" stroke="#111" stroke-width="1.6" fill="none"/>
<path d="M616.3,32.7 Q612.8,37 613.2,39.5 Q616.3,42.5 619.4,39.5 Q619.8,37 616.3,32.7 Z" stroke="#111" stroke-width="1.4" fill="none"/>
<path d="M607.4,41.6 Q614.7,41.6 614.7,45 L614.7,50.5 M624.8,41.6 Q618.6,41.6 618.6,45 L618.6,50.5" stroke="#111" stroke-width="1.5" fill="none"/>
<text x="0" y="0" font-size="10" text-anchor="middle" dominant-baseline="central" font-weight="normal" letter-spacing="1.62" transform="translate(591 35.2) scale(0.88 1)">TU</text>
<path d="M603.5,43.2 L572.8,43.2 L528.4,95.8" stroke="#111" stroke-width="1.05" fill="none"/>
<rect x="501.20000000000005" y="82" width="4.8" height="15" rx="2.4" stroke="#111" stroke-width="1.1" fill="none"/>
<line x1="503.6" y1="84" x2="503.6" y2="96" stroke="#111" stroke-width="0.6"/>
<rect x="497.6" y="96" width="12" height="3" rx="0" stroke="#111" stroke-width="1.0" fill="none"/>
<rect x="573.7" y="82" width="4.8" height="15" rx="2.4" stroke="#111" stroke-width="1.1" fill="none"/>
<line x1="576.1" y1="84" x2="576.1" y2="96" stroke="#111" stroke-width="0.6"/>
<rect x="570.1" y="96" width="12" height="3" rx="0" stroke="#111" stroke-width="1.0" fill="none"/>
<rect x="511.2" y="94.4" width="58.8" height="2.5" rx="0" stroke="#111" stroke-width="1.0" fill="none"/>
<rect x="520" y="92.6" width="9" height="1.8" rx="0" stroke="#111" stroke-width="0.8" fill="#666"/>
<rect x="550" y="92.6" width="9" height="1.8" rx="0" stroke="#111" stroke-width="0.8" fill="#666"/>
<line x1="497.4" y1="98.6" x2="584.1" y2="98.6" stroke="#111" stroke-width="1.0"/>
<line x1="497.4" y1="100.4" x2="584.1" y2="100.4" stroke="#111" stroke-width="1.6"/>
<line x1="497.4" y1="100.4" x2="497.4" y2="209.7" stroke="#111" stroke-width="1.4"/>
<line x1="584.1" y1="100.4" x2="584.1" y2="209.7" stroke="#111" stroke-width="1.4"/>
<line x1="511.2" y1="100.4" x2="511.2" y2="129.5" stroke="#111" stroke-width="1.1"/>
<line x1="570" y1="100.4" x2="570" y2="129.5" stroke="#111" stroke-width="1.1"/>
<line x1="511.2" y1="116.4" x2="570" y2="116.4" stroke="#111" stroke-width="1.0"/>
<circle cx="504.1" cy="116.9" r="3.1" stroke="#111" stroke-width="1.1" fill="#fff"/>
<path d="M502.4,116.9 L504.1,115.2 L505.8,116.9 L504.1,118.6 Z" stroke="#111" stroke-width="0.6" fill="none"/>
<line x1="501.0" y1="116.9" x2="507.20000000000005" y2="116.9" stroke="#111" stroke-width="0.5"/>
<line x1="504.1" y1="113.80000000000001" x2="504.1" y2="120.0" stroke="#111" stroke-width="0.5"/>
<circle cx="576.6" cy="116.9" r="3.1" stroke="#111" stroke-width="1.1" fill="#fff"/>
<path d="M574.9,116.9 L576.6,115.2 L578.3,116.9 L576.6,118.6 Z" stroke="#111" stroke-width="0.6" fill="none"/>
<line x1="573.5" y1="116.9" x2="579.7" y2="116.9" stroke="#111" stroke-width="0.5"/>
<line x1="576.6" y1="113.80000000000001" x2="576.6" y2="120.0" stroke="#111" stroke-width="0.5"/>
<path d="M584.1,118.3 L587.5,118.3 Q591.5,155 587.5,191 L584.1,191" stroke="#111" stroke-width="1.2" fill="none"/>
<line x1="587.5" y1="118.3" x2="587.5" y2="191" stroke="#111" stroke-width="0.8"/>
<line x1="498.5" y1="130.0" x2="506" y2="130.0" stroke="#111" stroke-width="1.1" stroke-dasharray="4 1"/>
<line x1="576" y1="130.0" x2="583.5" y2="130.0" stroke="#111" stroke-width="1.1" stroke-dasharray="4 1"/>
<line x1="498.5" y1="135.4" x2="506" y2="135.4" stroke="#111" stroke-width="1.1" stroke-dasharray="4 1"/>
<line x1="576" y1="135.4" x2="583.5" y2="135.4" stroke="#111" stroke-width="1.1" stroke-dasharray="4 1"/>
<line x1="498.5" y1="140.8" x2="506" y2="140.8" stroke="#111" stroke-width="1.1" stroke-dasharray="4 1"/>
<line x1="576" y1="140.8" x2="583.5" y2="140.8" stroke="#111" stroke-width="1.1" stroke-dasharray="4 1"/>
<line x1="498.5" y1="146.2" x2="506" y2="146.2" stroke="#111" stroke-width="1.1" stroke-dasharray="4 1"/>
<line x1="576" y1="146.2" x2="583.5" y2="146.2" stroke="#111" stroke-width="1.1" stroke-dasharray="4 1"/>
<line x1="498.5" y1="151.6" x2="506" y2="151.6" stroke="#111" stroke-width="1.1" stroke-dasharray="4 1"/>
<line x1="576" y1="151.6" x2="583.5" y2="151.6" stroke="#111" stroke-width="1.1" stroke-dasharray="4 1"/>
<line x1="498.5" y1="157.0" x2="506" y2="157.0" stroke="#111" stroke-width="1.1" stroke-dasharray="4 1"/>
<line x1="576" y1="157.0" x2="583.5" y2="157.0" stroke="#111" stroke-width="1.1" stroke-dasharray="4 1"/>
<line x1="498.5" y1="162.4" x2="506" y2="162.4" stroke="#111" stroke-width="1.1" stroke-dasharray="4 1"/>
<line x1="576" y1="162.4" x2="583.5" y2="162.4" stroke="#111" stroke-width="1.1" stroke-dasharray="4 1"/>
<line x1="498.5" y1="167.8" x2="506" y2="167.8" stroke="#111" stroke-width="1.1" stroke-dasharray="4 1"/>
<line x1="576" y1="167.8" x2="583.5" y2="167.8" stroke="#111" stroke-width="1.1" stroke-dasharray="4 1"/>
<line x1="498.5" y1="173.2" x2="506" y2="173.2" stroke="#111" stroke-width="1.1" stroke-dasharray="4 1"/>
<line x1="576" y1="173.2" x2="583.5" y2="173.2" stroke="#111" stroke-width="1.1" stroke-dasharray="4 1"/>
<line x1="498.5" y1="178.6" x2="506" y2="178.6" stroke="#111" stroke-width="1.1" stroke-dasharray="4 1"/>
<line x1="576" y1="178.6" x2="583.5" y2="178.6" stroke="#111" stroke-width="1.1" stroke-dasharray="4 1"/>
<circle cx="540.3" cy="155.3" r="39.3" stroke="#111" stroke-width="1.5" fill="#fff"/>
<circle cx="540.3" cy="155.3" r="29" stroke="#111" stroke-width="1.3" fill="none"/>
<circle cx="540.3" cy="155.3" r="20.4" stroke="#111" stroke-width="1.3" fill="none"/>
<circle cx="540.3" cy="155.3" r="17.5" stroke="#111" stroke-width="1.2" fill="none"/>
<circle cx="540.3" cy="155.3" r="8.5" stroke="#111" stroke-width="1.3" fill="none"/>
<circle cx="540.3" cy="155.3" r="2.5" stroke="#111" stroke-width="1.1" fill="none"/>
<rect x="548.3" y="153.3" width="2.5" height="4" rx="0" stroke="#111" stroke-width="0.9" fill="none"/>
<circle cx="573.2824993106528" cy="168.96179853543373" r="3.5" stroke="#111" stroke-width="1.1" fill="#fff"/>
<path d="M571.4,169.0 L573.3,167.0 L575.2,169.0 L573.3,170.9 Z" stroke="#111" stroke-width="0.6" fill="none"/>
<line x1="569.7824993106528" y1="168.96179853543373" x2="576.7824993106528" y2="168.96179853543373" stroke="#111" stroke-width="0.5"/>
<line x1="573.2824993106528" y1="165.46179853543373" x2="573.2824993106528" y2="172.46179853543373" stroke="#111" stroke-width="0.5"/>
<circle cx="553.9617985354337" cy="188.28249931065295" r="3.5" stroke="#111" stroke-width="1.1" fill="#fff"/>
<path d="M552.0,188.3 L554.0,186.4 L555.9,188.3 L554.0,190.2 Z" stroke="#111" stroke-width="0.6" fill="none"/>
<line x1="550.4617985354337" y1="188.28249931065295" x2="557.4617985354337" y2="188.28249931065295" stroke="#111" stroke-width="0.5"/>
<line x1="553.9617985354337" y1="184.78249931065295" x2="553.9617985354337" y2="191.78249931065295" stroke="#111" stroke-width="0.5"/>
<circle cx="526.6382014645662" cy="188.28249931065295" r="3.5" stroke="#111" stroke-width="1.1" fill="#fff"/>
<path d="M524.7,188.3 L526.6,186.4 L528.6,188.3 L526.6,190.2 Z" stroke="#111" stroke-width="0.6" fill="none"/>
<line x1="523.1382014645662" y1="188.28249931065295" x2="530.1382014645662" y2="188.28249931065295" stroke="#111" stroke-width="0.5"/>
<line x1="526.6382014645662" y1="184.78249931065295" x2="526.6382014645662" y2="191.78249931065295" stroke="#111" stroke-width="0.5"/>
<circle cx="507.317500689347" cy="168.96179853543373" r="3.5" stroke="#111" stroke-width="1.1" fill="#fff"/>
<path d="M505.4,169.0 L507.3,167.0 L509.2,169.0 L507.3,170.9 Z" stroke="#111" stroke-width="0.6" fill="none"/>
<line x1="503.817500689347" y1="168.96179853543373" x2="510.817500689347" y2="168.96179853543373" stroke="#111" stroke-width="0.5"/>
<line x1="507.317500689347" y1="165.46179853543373" x2="507.317500689347" y2="172.46179853543373" stroke="#111" stroke-width="0.5"/>
<circle cx="507.317500689347" cy="141.63820146456632" r="3.5" stroke="#111" stroke-width="1.1" fill="#fff"/>
<path d="M505.4,141.6 L507.3,139.7 L509.2,141.6 L507.3,143.6 Z" stroke="#111" stroke-width="0.6" fill="none"/>
<line x1="503.817500689347" y1="141.63820146456632" x2="510.817500689347" y2="141.63820146456632" stroke="#111" stroke-width="0.5"/>
<line x1="507.317500689347" y1="138.13820146456632" x2="507.317500689347" y2="145.13820146456632" stroke="#111" stroke-width="0.5"/>
<circle cx="526.6382014645662" cy="122.31750068934707" r="3.5" stroke="#111" stroke-width="1.1" fill="#fff"/>
<path d="M524.7,122.3 L526.6,120.4 L528.6,122.3 L526.6,124.2 Z" stroke="#111" stroke-width="0.6" fill="none"/>
<line x1="523.1382014645662" y1="122.31750068934707" x2="530.1382014645662" y2="122.31750068934707" stroke="#111" stroke-width="0.5"/>
<line x1="526.6382014645662" y1="118.81750068934707" x2="526.6382014645662" y2="125.81750068934707" stroke="#111" stroke-width="0.5"/>
<circle cx="553.9617985354337" cy="122.31750068934707" r="3.5" stroke="#111" stroke-width="1.1" fill="#fff"/>
<path d="M552.0,122.3 L554.0,120.4 L555.9,122.3 L554.0,124.2 Z" stroke="#111" stroke-width="0.6" fill="none"/>
<line x1="550.4617985354337" y1="122.31750068934707" x2="557.4617985354337" y2="122.31750068934707" stroke="#111" stroke-width="0.5"/>
<line x1="553.9617985354337" y1="118.81750068934707" x2="553.9617985354337" y2="125.81750068934707" stroke="#111" stroke-width="0.5"/>
<circle cx="573.2824993106528" cy="141.63820146456632" r="3.5" stroke="#111" stroke-width="1.1" fill="#fff"/>
<path d="M571.4,141.6 L573.3,139.7 L575.2,141.6 L573.3,143.6 Z" stroke="#111" stroke-width="0.6" fill="none"/>
<line x1="569.7824993106528" y1="141.63820146456632" x2="576.7824993106528" y2="141.63820146456632" stroke="#111" stroke-width="0.5"/>
<line x1="573.2824993106528" y1="138.13820146456632" x2="573.2824993106528" y2="145.13820146456632" stroke="#111" stroke-width="0.5"/>
<line x1="540.3" y1="92" x2="540.3" y2="215" stroke="#111" stroke-width="0.7" stroke-dasharray="10 2 2 2"/>
<line x1="430" y1="155.3" x2="600" y2="155.3" stroke="#111" stroke-width="0.7" stroke-dasharray="10 2 2 2"/>
<rect x="432.9" y="139.4" width="53.6" height="31.7" rx="0" stroke="#111" stroke-width="1.3" fill="none"/>
<path d="M434.5,151.7 L482.5,151.7 Q485.5,151.7 485.5,155.15 Q485.5,158.6 482.5,158.6 L434.5,158.6 Z" stroke="#111" stroke-width="1.0" fill="none"/>
<path d="M486.5,139.4 Q488,137.8 490.5,137.8 L490.5,172.5 Q488,172.5 486.5,171.1" stroke="#111" stroke-width="1.1" fill="none"/>
<rect x="490.5" y="128.3" width="3" height="52.1" rx="0" stroke="#111" stroke-width="1.2" fill="none"/>
<rect x="493.5" y="117.5" width="3.3" height="74.8" rx="0" stroke="#111" stroke-width="1.2" fill="none"/>
<line x1="498.3" y1="209.7" x2="584" y2="209.7" stroke="#111" stroke-width="1.4"/>
<line x1="510.9" y1="184.8" x2="510.9" y2="209.7" stroke="#111" stroke-width="1.1"/>
<line x1="571.5" y1="184.8" x2="571.5" y2="209.7" stroke="#111" stroke-width="1.1"/>
<line x1="510.9" y1="194" x2="571.5" y2="194" stroke="#111" stroke-width="1.0"/>
<line x1="510.9" y1="208.4" x2="571.5" y2="208.4" stroke="#111" stroke-width="1.05"/>
<circle cx="504.8" cy="193.2" r="2.8" stroke="#111" stroke-width="1.1" fill="#fff"/>
<path d="M503.3,193.2 L504.8,191.7 L506.3,193.2 L504.8,194.7 Z" stroke="#111" stroke-width="0.6" fill="none"/>
<line x1="502.0" y1="193.2" x2="507.6" y2="193.2" stroke="#111" stroke-width="0.5"/>
<line x1="504.8" y1="190.39999999999998" x2="504.8" y2="196.0" stroke="#111" stroke-width="0.5"/>
<circle cx="577.3" cy="193.2" r="2.8" stroke="#111" stroke-width="1.1" fill="#fff"/>
<path d="M575.8,193.2 L577.3,191.7 L578.8,193.2 L577.3,194.7 Z" stroke="#111" stroke-width="0.6" fill="none"/>
<line x1="574.5" y1="193.2" x2="580.0999999999999" y2="193.2" stroke="#111" stroke-width="0.5"/>
<line x1="577.3" y1="190.39999999999998" x2="577.3" y2="196.0" stroke="#111" stroke-width="0.5"/>
<path d="M577.3,193.2 L596.4,207.9 L633,207.9" stroke="#111" stroke-width="1.05" fill="none"/>
<text x="0" y="0" font-size="10" text-anchor="middle" dominant-baseline="central" font-weight="normal" letter-spacing="1.62" transform="translate(615 201.8) scale(0.88 1)">4xTR</text>
<line x1="504" y1="196" x2="504" y2="224" stroke="#111" stroke-width="1.05"/>
<line x1="577.3" y1="196" x2="577.3" y2="224" stroke="#111" stroke-width="1.05"/>
<line x1="498.3" y1="210" x2="498.3" y2="236" stroke="#111" stroke-width="1.05"/>
<line x1="584" y1="210" x2="584" y2="236" stroke="#111" stroke-width="1.05"/>
<line x1="504" y1="222" x2="577.3" y2="222" stroke="#111" stroke-width="1.0"/>
<polygon points="504.0,222.0 509.0,220.4 509.0,223.6" fill="#111"/>
<polygon points="577.3,222.0 572.3,220.4 572.3,223.6" fill="#111"/>
<text x="0" y="0" font-size="10" text-anchor="middle" dominant-baseline="central" font-weight="normal" letter-spacing="1.62" transform="translate(540.7 215.5) scale(0.88 1)">JE</text>
<line x1="498.3" y1="233.2" x2="584" y2="233.2" stroke="#111" stroke-width="1.0"/>
<polygon points="498.3,233.2 503.3,231.6 503.3,234.8" fill="#111"/>
<polygon points="584.0,233.2 579.0,231.6 579.0,234.8" fill="#111"/>
<text x="0" y="0" font-size="10" text-anchor="middle" dominant-baseline="central" font-weight="normal" letter-spacing="1.62" transform="translate(540.7 228.5) scale(0.88 1)">J</text>
<path d="M573,127 L600,100" stroke="#111" stroke-width="1.05" fill="none"/>
<text x="0" y="0" font-size="10" text-anchor="middle" dominant-baseline="central" font-weight="normal" letter-spacing="1.62" transform="translate(611 90) rotate(-45) scale(0.88 1)">&#216; RJ</text>
<rect x="601.5" y="245" width="25.8" height="25.4" rx="2.5" stroke="#111" stroke-width="1.0" fill="none"/>
<rect x="603" y="246.5" width="22.8" height="22.4" rx="1.5" stroke="#111" stroke-width="1.5" fill="none"/>
<circle cx="607.6" cy="249.5" r="1.6" stroke="#111" stroke-width="0" fill="#111"/>
<line x1="607.6" y1="250" x2="607.6" y2="266.5" stroke="#111" stroke-width="1.6"/>
<rect x="610.5" y="251.5" width="13.2" height="12.2" rx="1.5" stroke="#111" stroke-width="1.3" fill="none"/>
<path d="M617,253.5 Q613,258.5 614,260 Q617,263 620,260 Q621,258.5 617,253.5 Z" stroke="#111" stroke-width="1.2" fill="none"/>
<rect x="602.2" y="275.8" width="25.5" height="25.8" rx="2.5" stroke="#111" stroke-width="1.0" fill="none"/>
<rect x="603.7" y="277.3" width="22.5" height="22.8" rx="1.5" stroke="#111" stroke-width="1.5" fill="none"/>
<path d="M607.2,293 L607.2,281.6 L622.2,281.6 L622.2,293" stroke="#111" stroke-width="1.3" fill="none"/>
<path d="M611,298 L611,285 M619,298 L619,285" stroke="#111" stroke-width="1.2" fill="none"/>
<path d="M604.5,296 Q607,292.5 611,295 M625.5,296 Q623,292.5 619,295" stroke="#111" stroke-width="1.0" fill="none"/>
<path d="M601.5,257 L588,257 L531,310" stroke="#111" stroke-width="1.05" fill="none"/>
<path d="M602.2,291 L589,291 L552.5,305" stroke="#111" stroke-width="1.05" fill="none"/>
<line x1="528.9" y1="279" x2="528.9" y2="310.5" stroke="#111" stroke-width="1.4" stroke-dasharray="1.5 1.2"/>
<rect x="524.7" y="274.2" width="9" height="4.8" rx="0" stroke="#111" stroke-width="0" fill="#111"/>
<rect x="524.7" y="310.2" width="9" height="5.6" rx="0" stroke="#111" stroke-width="0" fill="#111"/>
<line x1="533.7" y1="273.8" x2="645" y2="273.8" stroke="#111" stroke-width="1.05"/>
<text x="0" y="0" font-size="7.5" text-anchor="middle" dominant-baseline="central" font-weight="normal" letter-spacing="1.44" transform="translate(641.5 320.3) rotate(-90) scale(0.88 1)">HO</text>
<rect x="501.0" y="278.9" width="5" height="16" rx="2.5" stroke="#111" stroke-width="1.1" fill="none"/>
<line x1="503.5" y1="281" x2="503.5" y2="294" stroke="#111" stroke-width="0.6"/>
<rect x="497.5" y="295" width="12" height="2.5" rx="0" stroke="#111" stroke-width="1.0" fill="none"/>
<rect x="573.9" y="278.9" width="5" height="16" rx="2.5" stroke="#111" stroke-width="1.1" fill="none"/>
<line x1="576.4" y1="281" x2="576.4" y2="294" stroke="#111" stroke-width="0.6"/>
<rect x="570.4" y="295" width="12" height="2.5" rx="0" stroke="#111" stroke-width="1.0" fill="none"/>
<rect x="511.2" y="292.5" width="60" height="2.5" rx="0" stroke="#111" stroke-width="1.0" fill="none"/>
<line x1="511.2" y1="298.4" x2="571.2" y2="298.4" stroke="#111" stroke-width="1.8"/>
<rect x="520.5" y="291" width="10" height="1.8" rx="0" stroke="#111" stroke-width="0.8" fill="none"/>
<rect x="548.4" y="291" width="11" height="1.8" rx="0" stroke="#111" stroke-width="0.8" fill="none"/>
<rect x="547.5" y="306.3" width="8.5" height="9" rx="0" stroke="#111" stroke-width="1.1" fill="none"/>
<line x1="550" y1="308" x2="550" y2="314" stroke="#111" stroke-width="0.7"/>
<line x1="497.2" y1="298" x2="584.6" y2="298" stroke="#111" stroke-width="1.3"/>
<line x1="497.2" y1="298" x2="497.2" y2="406.6" stroke="#111" stroke-width="1.4"/>
<line x1="584.6" y1="298" x2="584.6" y2="406.6" stroke="#111" stroke-width="1.4"/>
<line x1="510.5" y1="298" x2="510.5" y2="406.6" stroke="#111" stroke-width="1.1"/>
<line x1="570" y1="298" x2="570" y2="406.6" stroke="#111" stroke-width="1.1"/>
<line x1="510.5" y1="315.2" x2="570" y2="315.2" stroke="#111" stroke-width="1.2"/>
<line x1="510.5" y1="378.7" x2="570" y2="378.7" stroke="#111" stroke-width="1.2"/>
<line x1="497.2" y1="381.4" x2="584.6" y2="381.4" stroke="#111" stroke-width="1.05"/>
<line x1="497.2" y1="320" x2="510.5" y2="320" stroke="#111" stroke-width="1.05"/>
<line x1="570" y1="320" x2="584.6" y2="320" stroke="#111" stroke-width="1.05"/>
<rect x="494.3" y="315.9" width="2.9" height="75.1" rx="0" stroke="#111" stroke-width="1.0" fill="none"/>
<path d="M494.3,324 Q487.5,353.6 494.3,383" stroke="#111" stroke-width="1.2" fill="none"/>
<rect x="584.6" y="315.9" width="3.4" height="75.1" rx="0" stroke="#111" stroke-width="1.1" fill="none"/>
<path d="M510.5,322 L500,322 Q497.5,324.25 500,326.5 L510.5,326.5" stroke="#111" stroke-width="0.8" fill="none"/>
<path d="M570,322 L582,322 Q584.5,324.25 582,326.5 L570,326.5" stroke="#111" stroke-width="0.8" fill="none"/>
<path d="M510.5,326.5 L500,326.5 Q497.5,328.75 500,331.0 L510.5,331.0" stroke="#111" stroke-width="0.8" fill="none"/>
<path d="M570,326.5 L582,326.5 Q584.5,328.75 582,331.0 L570,331.0" stroke="#111" stroke-width="0.8" fill="none"/>
<path d="M510.5,331 L500,331 Q497.5,333.25 500,335.5 L510.5,335.5" stroke="#111" stroke-width="0.8" fill="none"/>
<path d="M570,331 L582,331 Q584.5,333.25 582,335.5 L570,335.5" stroke="#111" stroke-width="0.8" fill="none"/>
<path d="M510.5,335.5 L500,335.5 Q497.5,337.75 500,340.0 L510.5,340.0" stroke="#111" stroke-width="0.8" fill="none"/>
<path d="M570,335.5 L582,335.5 Q584.5,337.75 582,340.0 L570,340.0" stroke="#111" stroke-width="0.8" fill="none"/>
<path d="M510.5,340 L500,340 Q497.5,342.25 500,344.5 L510.5,344.5" stroke="#111" stroke-width="0.8" fill="none"/>
<path d="M570,340 L582,340 Q584.5,342.25 582,344.5 L570,344.5" stroke="#111" stroke-width="0.8" fill="none"/>
<path d="M510.5,344.5 L500,344.5 Q497.5,346.75 500,349.0 L510.5,349.0" stroke="#111" stroke-width="0.8" fill="none"/>
<path d="M570,344.5 L582,344.5 Q584.5,346.75 582,349.0 L570,349.0" stroke="#111" stroke-width="0.8" fill="none"/>
<path d="M510.5,358.5 L500,358.5 Q497.5,360.75 500,363.0 L510.5,363.0" stroke="#111" stroke-width="0.8" fill="none"/>
<path d="M570,358.5 L582,358.5 Q584.5,360.75 582,363.0 L570,363.0" stroke="#111" stroke-width="0.8" fill="none"/>
<path d="M510.5,363 L500,363 Q497.5,365.25 500,367.5 L510.5,367.5" stroke="#111" stroke-width="0.8" fill="none"/>
<path d="M570,363 L582,363 Q584.5,365.25 582,367.5 L570,367.5" stroke="#111" stroke-width="0.8" fill="none"/>
<path d="M510.5,367.5 L500,367.5 Q497.5,369.75 500,372.0 L510.5,372.0" stroke="#111" stroke-width="0.8" fill="none"/>
<path d="M570,367.5 L582,367.5 Q584.5,369.75 582,372.0 L570,372.0" stroke="#111" stroke-width="0.8" fill="none"/>
<path d="M510.5,372 L500,372 Q497.5,374.25 500,376.5 L510.5,376.5" stroke="#111" stroke-width="0.8" fill="none"/>
<path d="M570,372 L582,372 Q584.5,374.25 582,376.5 L570,376.5" stroke="#111" stroke-width="0.8" fill="none"/>
<path d="M510.5,376.5 L500,376.5 Q497.5,378.75 500,381.0 L510.5,381.0" stroke="#111" stroke-width="0.8" fill="none"/>
<path d="M570,376.5 L582,376.5 Q584.5,378.75 582,381.0 L570,381.0" stroke="#111" stroke-width="0.8" fill="none"/>
<line x1="497.2" y1="406.6" x2="584.6" y2="406.6" stroke="#111" stroke-width="1.4"/>
<line x1="541.5" y1="293" x2="541.5" y2="420" stroke="#111" stroke-width="0.7" stroke-dasharray="10 2 2 2"/>
<line x1="490" y1="353.6" x2="600" y2="353.6" stroke="#111" stroke-width="0.7" stroke-dasharray="10 2 2 2"/>
<line x1="585" y1="408.5" x2="650" y2="408.5" stroke="#111" stroke-width="0.7" stroke-dasharray="10 2 2 2"/>
<circle cx="503.8" cy="315.2" r="3.4" stroke="#111" stroke-width="1.1" fill="#fff"/>
<path d="M501.9,315.2 L503.8,313.3 L505.7,315.2 L503.8,317.1 Z" stroke="#111" stroke-width="0.6" fill="none"/>
<line x1="500.40000000000003" y1="315.2" x2="507.2" y2="315.2" stroke="#111" stroke-width="0.5"/>
<line x1="503.8" y1="311.8" x2="503.8" y2="318.59999999999997" stroke="#111" stroke-width="0.5"/>
<circle cx="576.7" cy="315.2" r="3.4" stroke="#111" stroke-width="1.1" fill="#fff"/>
<path d="M574.8,315.2 L576.7,313.3 L578.6,315.2 L576.7,317.1 Z" stroke="#111" stroke-width="0.6" fill="none"/>
<line x1="573.3000000000001" y1="315.2" x2="580.1" y2="315.2" stroke="#111" stroke-width="0.5"/>
<line x1="576.7" y1="311.8" x2="576.7" y2="318.59999999999997" stroke="#111" stroke-width="0.5"/>
<circle cx="503.8" cy="390.7" r="3.4" stroke="#111" stroke-width="1.1" fill="#fff"/>
<path d="M501.9,390.7 L503.8,388.8 L505.7,390.7 L503.8,392.6 Z" stroke="#111" stroke-width="0.6" fill="none"/>
<line x1="500.40000000000003" y1="390.7" x2="507.2" y2="390.7" stroke="#111" stroke-width="0.5"/>
<line x1="503.8" y1="387.3" x2="503.8" y2="394.09999999999997" stroke="#111" stroke-width="0.5"/>
<circle cx="576.7" cy="390.7" r="3.4" stroke="#111" stroke-width="1.1" fill="#fff"/>
<path d="M574.8,390.7 L576.7,388.8 L578.6,390.7 L576.7,392.6 Z" stroke="#111" stroke-width="0.6" fill="none"/>
<line x1="573.3000000000001" y1="390.7" x2="580.1" y2="390.7" stroke="#111" stroke-width="0.5"/>
<line x1="576.7" y1="387.3" x2="576.7" y2="394.09999999999997" stroke="#111" stroke-width="0.5"/>
<circle cx="506.5" cy="353.6" r="4.6" stroke="#111" stroke-width="1.2" fill="#fff"/>
<circle cx="506.5" cy="353.6" r="3.0" stroke="#111" stroke-width="1.1" fill="none"/>
<circle cx="506.5" cy="353.6" r="1.05" stroke="#111" stroke-width="0" fill="#111"/>
<circle cx="574" cy="353.6" r="4.6" stroke="#111" stroke-width="1.2" fill="#fff"/>
<circle cx="574" cy="353.6" r="3.0" stroke="#111" stroke-width="1.1" fill="none"/>
<circle cx="574" cy="353.6" r="1.05" stroke="#111" stroke-width="0" fill="#111"/>
<line x1="475" y1="316" x2="497" y2="316" stroke="#111" stroke-width="1.05"/>
<line x1="475" y1="391.6" x2="497" y2="391.6" stroke="#111" stroke-width="1.05"/>
<line x1="475.4" y1="316" x2="475.4" y2="391.6" stroke="#111" stroke-width="1.0"/>
<polygon points="475.4,316.0 473.8,321.0 477.0,321.0" fill="#111"/>
<polygon points="475.4,391.6 473.8,386.6 477.0,386.6" fill="#111"/>
<text x="0" y="0" font-size="11" text-anchor="middle" dominant-baseline="central" font-weight="normal" letter-spacing="1.69" transform="translate(469.2 356.3) rotate(-90) scale(0.88 1)">S</text>
<path d="M503.8,390.7 L478,414.7 L448,414.7" stroke="#111" stroke-width="1.05" fill="none"/>
<text x="0" y="0" font-size="10" text-anchor="middle" dominant-baseline="central" font-weight="normal" letter-spacing="1.62" transform="translate(463 408.5) scale(0.88 1)">4xTM</text>
<rect x="589" y="325" width="5.4" height="47" rx="0" stroke="#111" stroke-width="1.2" fill="none"/>
<rect x="594.4" y="335" width="50.9" height="33.2" rx="0" stroke="#111" stroke-width="1.3" fill="none"/>
<text x="0" y="0" font-size="10.4" text-anchor="middle" dominant-baseline="central" font-weight="normal" letter-spacing="1.45" transform="translate(622 375.7) scale(0.88 1)">LSS</text>
<line x1="569.8" y1="406" x2="569.8" y2="422" stroke="#111" stroke-width="1.05"/>
<line x1="582.8" y1="406" x2="582.8" y2="422" stroke="#111" stroke-width="1.05"/>
<line x1="546.5" y1="420.4" x2="591.4" y2="420.4" stroke="#111" stroke-width="1.05"/>
<polygon points="569.8,420.4 564.8,418.8 564.8,422.0" fill="#111"/>
<polygon points="582.8,420.4 587.8,418.8 587.8,422.0" fill="#111"/>
<text x="0" y="0" font-size="10" text-anchor="middle" dominant-baseline="central" font-weight="normal" letter-spacing="1.62" transform="translate(555.7 414) scale(0.88 1)">KT</text>
<line x1="503.8" y1="395" x2="503.8" y2="434" stroke="#111" stroke-width="1.05"/>
<line x1="576.6" y1="395" x2="576.6" y2="434" stroke="#111" stroke-width="1.05"/>
<line x1="503.8" y1="431.5" x2="576.6" y2="431.5" stroke="#111" stroke-width="1.0"/>
<polygon points="503.8,431.5 508.8,429.9 508.8,433.1" fill="#111"/>
<polygon points="576.6,431.5 571.6,429.9 571.6,433.1" fill="#111"/>
<text x="0" y="0" font-size="10" text-anchor="middle" dominant-baseline="central" font-weight="normal" letter-spacing="1.62" transform="translate(531.5 426.5) scale(0.88 1)">JE</text>
<text x="0" y="0" font-size="10" text-anchor="middle" dominant-baseline="central" font-weight="normal" letter-spacing="1.02" transform="translate(538 445) scale(0.88 1)">Direction X</text>
<circle cx="370.3" cy="362.2" r="15.3" stroke="#111" stroke-width="2.0" fill="none"/>
<rect x="366.3" y="329" width="9.3" height="17.3" rx="0" stroke="#111" stroke-width="1.1" fill="none"/>
<circle cx="370.3" cy="362.2" r="3.2" stroke="#111" stroke-width="1.0" fill="none"/>
<line x1="346.5" y1="328.6" x2="384.8" y2="328.6" stroke="#111" stroke-width="1.05"/>
<line x1="387.5" y1="329" x2="412.6" y2="329" stroke="#111" stroke-width="1.05"/>
<path d="M387.5,329 L370.3,362.2" stroke="#111" stroke-width="1.05" fill="none"/>
<text x="0" y="0" font-size="10.5" text-anchor="middle" dominant-baseline="central" font-weight="normal" letter-spacing="3.06" transform="translate(354 322.5) scale(0.88 1)">b1</text>
<text x="0" y="0" font-size="10.5" text-anchor="middle" dominant-baseline="central" font-weight="normal" letter-spacing="3.06" transform="translate(404.5 322.5) scale(0.88 1)">m1</text>
<line x1="376" y1="345.5" x2="406" y2="345.5" stroke="#111" stroke-width="1.05"/>
<line x1="370" y1="377.5" x2="406" y2="377.5" stroke="#111" stroke-width="1.05"/>
<line x1="403.3" y1="345.5" x2="403.3" y2="377.5" stroke="#111" stroke-width="1.0"/>
<polygon points="403.3,345.5 401.7,350.5 404.9,350.5" fill="#111"/>
<polygon points="403.3,377.5 401.7,372.5 404.9,372.5" fill="#111"/>
<text x="0" y="0" font-size="10.5" text-anchor="middle" dominant-baseline="central" font-weight="normal" letter-spacing="3.06" transform="translate(396.7 362.2) rotate(-90) scale(0.88 1)">h1</text>
<line x1="355" y1="362" x2="355" y2="398" stroke="#111" stroke-width="1.05"/>
<line x1="385.6" y1="362" x2="385.6" y2="398" stroke="#111" stroke-width="1.05"/>
<line x1="355" y1="395.8" x2="385.6" y2="395.8" stroke="#111" stroke-width="1.0"/>
<polygon points="355.0,395.8 360.0,394.2 360.0,397.4" fill="#111"/>
<polygon points="385.6,395.8 380.6,394.2 380.6,397.4" fill="#111"/>
<text x="0" y="0" font-size="10.5" text-anchor="middle" dominant-baseline="central" font-weight="normal" letter-spacing="3.06" transform="translate(371.5 388.6) scale(0.88 1)">&#216;d1</text>
<text x="0" y="0" font-size="11" text-anchor="middle" dominant-baseline="central" font-weight="normal" letter-spacing="1.69" transform="translate(371 407.1) scale(0.88 1)">HSS</text>
</svg></body></html>
